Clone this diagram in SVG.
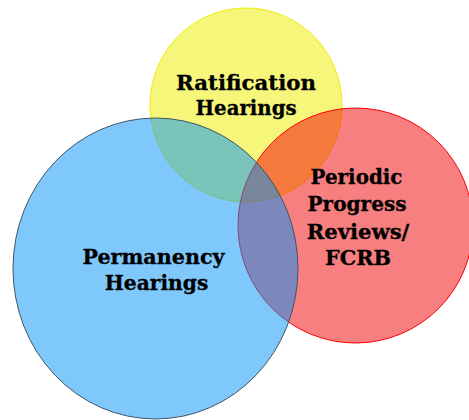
<svg xmlns="http://www.w3.org/2000/svg" width="469" height="420" viewBox="0 0 469 420">
<style>
.lbl{font-family:"DejaVu Serif","Liberation Serif",serif;font-weight:bold;font-size:21px;fill:#000;stroke:#000;stroke-width:0.3;text-anchor:middle}
</style>
<rect width="469" height="420" fill="#fff"/>
<g id="ratification">
<ellipse cx="246" cy="105" rx="96" ry="97" fill="#eeee00" fill-opacity="0.52" stroke="#eeee00" stroke-width="1"/>
</g>
<g id="periodic">
<ellipse cx="355.5" cy="225.5" rx="117.5" ry="117.5" fill="#f20000" fill-opacity="0.5" stroke="#ff0000" stroke-width="1"/>
</g>
<g id="permanency">
<ellipse cx="155.5" cy="268.5" rx="142.5" ry="150.5" fill="#0092fa" fill-opacity="0.5" stroke="#3d5466" stroke-width="1"/>
</g>
<g id="labels">
<text class="lbl" x="246" y="90" textLength="140" lengthAdjust="spacingAndGlyphs">Ratification</text>
<text class="lbl" x="246" y="115" textLength="101" lengthAdjust="spacingAndGlyphs">Hearings</text>
<text class="lbl" x="356.5" y="183.5" textLength="92" lengthAdjust="spacingAndGlyphs">Periodic</text>
<text class="lbl" x="357" y="211" textLength="99" lengthAdjust="spacingAndGlyphs">Progress</text>
<text class="lbl" x="358" y="238.5" textLength="102.5" lengthAdjust="spacingAndGlyphs">Reviews/</text>
<text class="lbl" x="358" y="264.5" textLength="66" lengthAdjust="spacingAndGlyphs">FCRB</text>
<text class="lbl" x="153.5" y="264" textLength="142" lengthAdjust="spacingAndGlyphs">Permanency</text>
<text class="lbl" x="156.5" y="290" textLength="103.5" lengthAdjust="spacingAndGlyphs">Hearings</text>
</g>
</svg>
